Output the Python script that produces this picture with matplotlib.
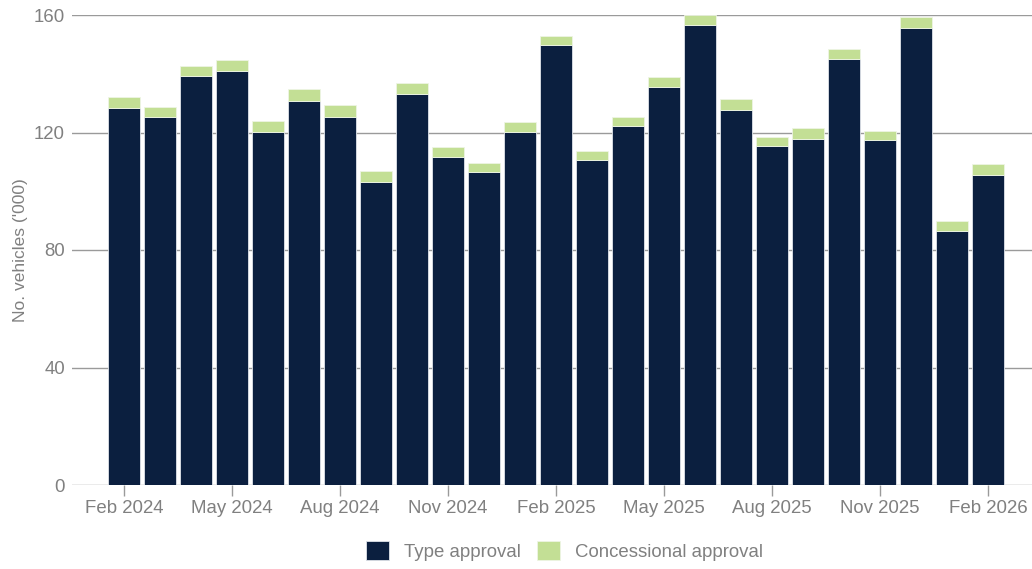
import numpy as np
import matplotlib.pyplot as plt

# monthly vehicle approvals, Feb 2024 - Feb 2026 ('000)
months = ['Feb 2024', 'Mar 2024', 'Apr 2024', 'May 2024', 'Jun 2024', 'Jul 2024',
          'Aug 2024', 'Sep 2024', 'Oct 2024', 'Nov 2024', 'Dec 2024', 'Jan 2025',
          'Feb 2025', 'Mar 2025', 'Apr 2025', 'May 2025', 'Jun 2025', 'Jul 2025',
          'Aug 2025', 'Sep 2025', 'Oct 2025', 'Nov 2025', 'Dec 2025', 'Jan 2026',
          'Feb 2026']
type_approval = [128.5, 125.3, 139.1, 140.8, 120.1, 130.7, 125.3, 103.2, 133.0,
                 111.7, 106.5, 120.2, 149.7, 110.5, 122.3, 135.6, 156.6, 127.6,
                 115.4, 117.7, 144.9, 117.3, 155.7, 86.4, 105.5]
total = [132.2, 128.6, 142.6, 144.7, 123.8, 134.7, 129.3, 106.8, 136.8,
         115.0, 109.5, 123.5, 152.8, 113.8, 125.4, 139.0, 159.9, 131.3,
         118.5, 121.4, 148.3, 120.4, 159.2, 89.8, 109.2]
concessional = [t - a for t, a in zip(total, type_approval)]

tick_labels = ['Feb 2024', 'May 2024', 'Aug 2024', 'Nov 2024', 'Feb 2025',
               'May 2025', 'Aug 2025', 'Nov 2025', 'Feb 2026']

navy = '#0b1f3f'
green = '#c3df95'
grey = '#808080'

plt.rcParams['font.family'] = ['Liberation Sans', 'DejaVu Sans']

fig = plt.figure(figsize=(10.32, 5.69), dpi=100)
ax = fig.add_axes([72 / 1032, 84 / 569, 960 / 1032, 470 / 569])

x = np.arange(len(months))
ax.bar(x, type_approval, width=0.88, color=navy, edgecolor='#dfe4ea',
       linewidth=0.6, zorder=3, label='Type approval')
ax.bar(x, concessional, bottom=type_approval, width=0.88, color=green,
       edgecolor='#eef5e4', linewidth=0.6, zorder=3, label='Concessional approval')

ax.set_ylim(0, 160)
ax.set_xlim(-1.44, 25.22)
ax.set_yticks([0, 40, 80, 120, 160])
ax.yaxis.grid(True, color='#9a9a9a', linewidth=1, zorder=0)
ax.set_axisbelow(True)

ticks = [months.index(m) for m in tick_labels]
ax.set_xticks(ticks)
ax.set_xticklabels(tick_labels)

for s in ax.spines.values():
    s.set_visible(False)

ax.tick_params(axis='y', length=0, pad=5, labelsize=13.4, labelcolor=grey)
ax.tick_params(axis='x', length=8, width=1, color='#9a9a9a', pad=3,
               labelsize=13.4, labelcolor=grey)

ax.set_ylabel("No. vehicles ('000)", fontsize=12.5, color=grey, labelpad=4)

fig.legend(loc='center', bbox_to_anchor=(0.547, 0.032), ncol=2, frameon=False,
           fontsize=13.4, labelcolor=grey, handlelength=1.2, handleheight=1.2,
           handletextpad=0.8, columnspacing=0.9)

fig.savefig('out.png', dpi=100)
